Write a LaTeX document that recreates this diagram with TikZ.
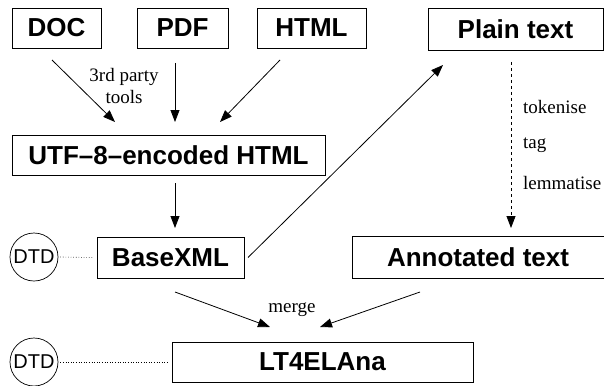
\documentclass[tikz,border=0pt]{standalone}
\usepackage{fontspec}
\setmainfont{Liberation Serif}
\setsansfont{Liberation Sans}
\usetikzlibrary{arrows.meta}

\begin{document}
\begin{tikzpicture}[x=1pt,y=-1pt,
box/.style={rectangle,draw=black,line width=0.8pt,minimum height=40pt,inner sep=0pt,outer sep=0pt,font=\sffamily\bfseries\fontsize{26}{30}\selectfont},
dtd/.style={circle,draw=black,line width=0.7pt,minimum size=48pt,inner sep=0pt,font=\sffamily\fontsize{20}{24}\selectfont},
step label/.style={font=\fontsize{19}{22}\selectfont,inner sep=0pt}]

\tikzset{flowarrow/.style={-{Triangle[length=12pt,width=9pt]}, line width=0.8pt}}

\useasboundingbox (0,0) rectangle (604,385);

\node[box, minimum width=89pt] (doc) at (56.5,28) {DOC};
\node[box, minimum width=91pt] (pdf) at (182.5,28) {PDF};
\node[box, minimum width=109pt] (html) at (311.5,28) {HTML};
\node[box, minimum width=175pt, minimum height=42pt] (plain) at (515.5,29) {Plain text};
\node[box, minimum width=313pt] (utf) at (168.5,155) {UTF--8--encoded HTML};
\node[box, minimum width=147pt, minimum height=41pt] (base) at (170.5,257.5) {BaseXML};
\node[box, minimum width=252pt, minimum height=42pt] (annot) at (478,257) {Annotated text};
\node[box, minimum width=301pt] (lt4) at (322.5,362) {LT4ELAna};
\node[dtd] (dtd1) at (34,257) {DTD};
\node[dtd] (dtd2) at (34,362) {DTD};

\node[step label, align=center] (tools) at (124,86) {3rd party\\tools};
\node[step label, anchor=west] (tok) at (523,107) {tokenise};
\node[step label, anchor=west] (tag) at (523,145) {tag};
\node[step label, anchor=west] (lem) at (523,183) {lemmatise};
\node[step label] (merge) at (292,310) {merge};

\draw[flowarrow] ([shift={(-4.5,12)}]doc.south) -- ([shift={(-53.5,-13)}]utf.north);
\draw[flowarrow] ([shift={(-7.5,15)}]pdf.south) -- ([shift={(6.5,-13)}]utf.north);
\draw[flowarrow] ([shift={(-31.5,12)}]html.south) -- ([shift={(51.5,-13)}]utf.north);
\draw[flowarrow] ([shift={(6.5,8)}]utf.south) -- ([shift={(4.5,-9)}]base.north);
\draw[flowarrow] ([shift={(4,0)}]base.east) -- ([shift={(15,15)}]plain.south west);
\draw[flowarrow, dashed] ([shift={(-4.5,12)}]plain.south) -- ([shift={(33,-8)}]annot.north);
\draw[flowarrow] ([shift={(4.5,14)}]base.south) -- ([shift={(-52.5,-15)}]lt4.north);
\draw[flowarrow] ([shift={(-58,14)}]annot.south) -- ([shift={(-2.5,-15)}]lt4.north);

\draw[dotted, line width=0.6pt] ([shift={(2,0)}]dtd1.east) -- ([shift={(-4,0)}]base.west);
\draw[dotted, line width=0.6pt] ([shift={(2,0)}]dtd2.east) -- ([shift={(-4,0)}]lt4.west);

\end{tikzpicture}
\end{document}
